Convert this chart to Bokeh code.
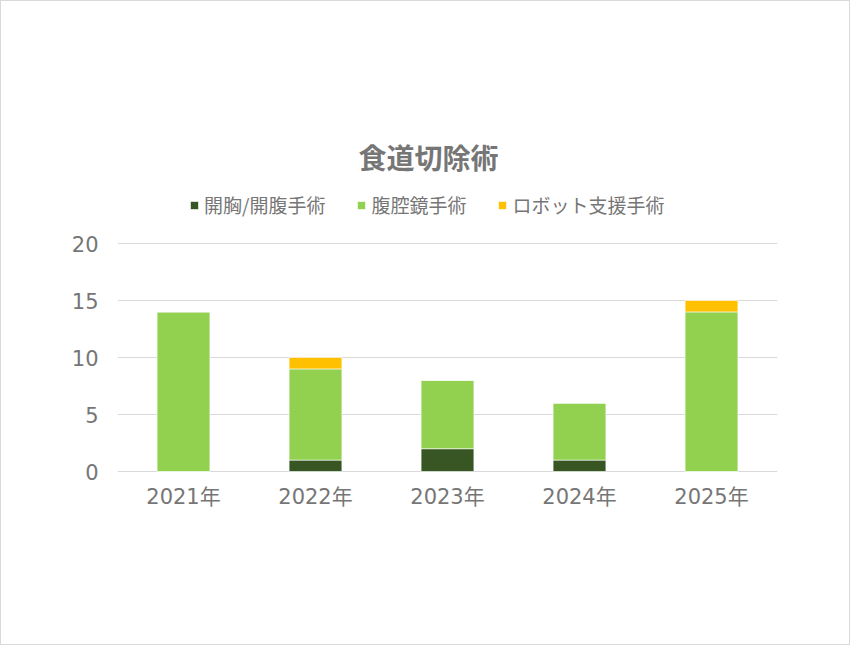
from bokeh.plotting import figure
from bokeh.models import FactorRange, Range1d, Legend, LegendItem, FixedTicker, ColumnDataSource, Label
from bokeh.embed import file_html
from bokeh.resources import INLINE

years = ["2021年", "2022年", "2023年", "2024年", "2025年"]
series_names = ["開胸/開腹手術", "腹腔鏡手術", "ロボット支援手術"]
open_surgery = [0, 1, 2, 1, 0]
laparoscopic = [14, 8, 6, 5, 14]
robotic = [0, 1, 0, 0, 1]
colors = ["#375623", "#92D050", "#FFC000"]
y_ticks = [0, 5, 10, 15, 20]
chart_title = "食道切除術"

CJK = "Noto Sans CJK JP"
NUMFONT = "DejaVu Sans, Noto Sans CJK JP"
TEXT = "#767676"

PX_PER_UNIT = 11.4
FRAME_H = 451
y_start = -1 / PX_PER_UNIT
y_end = y_start + FRAME_H / PX_PER_UNIT

source = ColumnDataSource(dict(year=years, s0=open_surgery, s1=laparoscopic, s2=robotic))

p = figure(x_range=FactorRange(*years, range_padding=0), y_range=Range1d(y_start, y_end),
           width=850, height=645, output_backend="svg", toolbar_location=None,
           min_border_left=116, min_border_right=74, min_border_top=20, min_border_bottom=174)
p.styles = {"border": "1px solid #d9d9d9"}

r = p.vbar_stack(["s0", "s1", "s2"], x="year", width=0.4, color=colors, source=source,
                 line_color="white", line_width=0.6)

title = Label(x=2.356, y=27.63, text=chart_title, text_align="center", text_baseline="middle",
              text_font=CJK, text_font_size="28px", text_font_style="bold", text_color=TEXT)
p.add_layout(title)

legend = Legend(items=[LegendItem(label=n, renderers=[rr]) for n, rr in zip(series_names, r)],
                orientation="horizontal", location=(72, 254))
legend.label_text_font = CJK
legend.label_text_font_size = "19px"
legend.label_text_color = TEXT
legend.glyph_width = 10
legend.glyph_height = 10
legend.spacing = 31
legend.label_standoff = 5
legend.border_line_color = None
legend.background_fill_alpha = 0
legend.padding = 4
legend.margin = 0
p.add_layout(legend)

p.outline_line_color = None
p.xgrid.grid_line_color = None
p.ygrid.grid_line_color = "#d9d9d9"
p.yaxis.ticker = FixedTicker(ticks=y_ticks)
p.ygrid.ticker = FixedTicker(ticks=y_ticks)
for ax in (p.xaxis[0], p.yaxis[0]):
    ax.axis_line_color = None
    ax.major_tick_line_color = None
    ax.minor_tick_line_color = None
    ax.major_label_text_font = NUMFONT
    ax.major_label_text_color = TEXT
    ax.major_label_text_font_size = "21px"
p.yaxis.major_label_standoff = 13
p.xaxis.major_label_standoff = 6

open("out.html", "w").write(file_html(p, INLINE))
